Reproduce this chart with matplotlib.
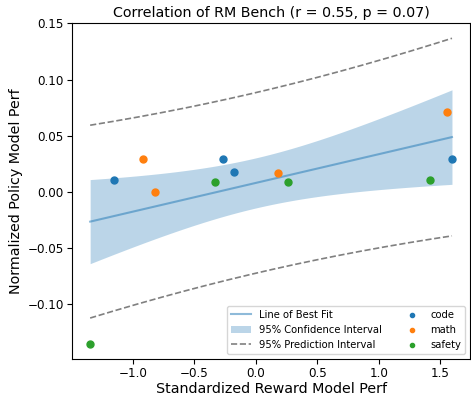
import numpy as np
import matplotlib.pyplot as plt

# values
code_x = [-1.155, -0.268, -0.176, 1.596]
code_y = [0.0109, 0.0289, 0.0177, 0.0289]
math_x = [-0.921, -0.821, 0.181, 1.555]
math_y = [0.0290, 0.0000, 0.0168, 0.0709]
safety_x = [-1.347, -0.333, 0.260, 1.415]
safety_y = [-0.135, 0.0086, 0.0086, 0.0106]
categories = ["code", "math", "safety"]
t_crit = 1.812  # t(0.95, df=10), matches band width in the reference

x = np.array(code_x + math_x + safety_x)
y = np.array(code_y + math_y + safety_y)
n = len(x)

# Fit line + intervals
slope, intercept = np.polyfit(x, y, 1)
resid = y - (slope * x + intercept)
s = np.sqrt(np.sum(resid ** 2) / (n - 2))
xs = np.linspace(x.min(), x.max(), 200)
ys = slope * xs + intercept
sxx = np.sum((x - x.mean()) ** 2)
se_fit = s * np.sqrt(1 / n + (xs - x.mean()) ** 2 / sxx)
se_pred = s * np.sqrt(1 + 1 / n + (xs - x.mean()) ** 2 / sxx)

fig, ax = plt.subplots(figsize=(4.71, 3.97), dpi=100)
fig.subplots_adjust(left=0.153, right=0.998, top=0.942, bottom=0.096)

ax.plot(xs, ys, color='C0', alpha=0.5, label='Line of Best Fit')
ax.fill_between(xs, ys - t_crit * se_fit, ys + t_crit * se_fit, color='C0', alpha=0.3, linewidth=0,
                label='95% Confidence Interval')
ax.plot(xs, ys - t_crit * se_pred, '--', color='gray', linewidth=1.2, label='95% Prediction Interval')
ax.plot(xs, ys + t_crit * se_pred, '--', color='gray', linewidth=1.2)

for i, (cx, cy) in enumerate([(code_x, code_y), (math_x, math_y), (safety_x, safety_y)]):
    ax.scatter(cx, cy, color='C%d' % i, s=25, label=categories[i], zorder=3)

ax.set_title('Correlation of RM Bench (r = 0.55, p = 0.07)', fontsize=10.3, pad=4)
ax.set_xlabel('Standardized Reward Model Perf', fontsize=10.3, labelpad=1)
ax.set_ylabel('Normalized Policy Model Perf', fontsize=10.3, labelpad=3)
ax.tick_params(labelsize=8.6, pad=2.5)
ax.legend(ncol=2, fontsize=7.2, loc='lower right', markerscale=0.6)

plt.savefig('out.png', dpi=100)
